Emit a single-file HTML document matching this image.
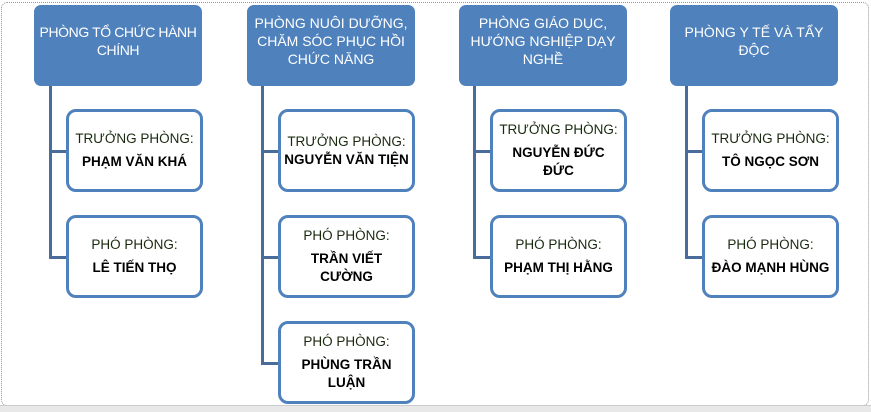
<!DOCTYPE html>
<html><head><meta charset="utf-8"><style>
body{margin:0;width:871px;height:411px;background:#fff;position:relative;overflow:hidden;font-family:"Liberation Sans",sans-serif}
.frame{position:absolute;left:1px;top:2px;width:866px;height:402px;border:1px dotted #999;border-radius:6px}
.bot{position:absolute;left:0;top:405px;width:871px;height:6px;background:#e8e8e8;border-top:1px solid #ccc}
.h{position:absolute;top:5px;width:168px;height:81px;background:#4f81bd;border-radius:7px;color:#fff;font-size:14px;text-align:center;display:flex;align-items:center;justify-content:center;line-height:18px;box-sizing:border-box;padding:0 2px 10px}
.c{position:absolute;width:137px;height:83px;border:3px solid #4f81bd;border-radius:10px;box-sizing:border-box;background:#fff;text-align:center;font-size:13.5px;color:#1a2a10;display:flex;flex-direction:column;justify-content:center;line-height:18px}
.c b{color:#000;margin-top:5px;display:block}
.v{position:absolute;width:3px;background:#4a6c9b}
.hl{position:absolute;height:3px;background:#4a6c9b}
</style></head><body>
<div class="frame"></div><div class="bot"></div>

<div class="h" style="left:34px;letter-spacing:-0.4px">PHÒNG TỔ CHỨC HÀNH<br>CHÍNH</div>
<div class="h" style="left:247px">PHÒNG NUÔI DƯỠNG, CHĂM SÓC PHỤC HỒI CHỨC NĂNG</div>
<div class="h" style="left:459px">PHÒNG GIÁO DỤC, HƯỚNG NGHIỆP DẠY NGHỀ</div>
<div class="h" style="left:670px">PHÒNG Y TẾ VÀ TẨY ĐỘC</div>

<div class="v" style="left:49px;top:86px;height:172px"></div>
<div class="hl" style="left:49px;top:150px;width:18px"></div>
<div class="hl" style="left:49px;top:256px;width:18px"></div>
<div class="v" style="left:261px;top:86px;height:278px"></div>
<div class="hl" style="left:261px;top:150px;width:18px"></div>
<div class="hl" style="left:261px;top:256px;width:18px"></div>
<div class="hl" style="left:261px;top:362px;width:18px"></div>
<div class="v" style="left:473px;top:86px;height:172px"></div>
<div class="hl" style="left:473px;top:150px;width:18px"></div>
<div class="hl" style="left:473px;top:256px;width:18px"></div>
<div class="v" style="left:685px;top:86px;height:172px"></div>
<div class="hl" style="left:685px;top:150px;width:18px"></div>
<div class="hl" style="left:685px;top:256px;width:18px"></div>

<div class="c" style="left:66px;top:109px">TRƯỞNG PHÒNG:<b>PHẠM VĂN KHÁ</b></div>
<div class="c" style="left:66px;top:215px">PHÓ PHÒNG:<b>LÊ TIẾN THỌ</b></div>
<div class="c" style="left:278px;top:109px">TRƯỞNG PHÒNG:<b style="margin-top:0">NGUYỄN VĂN TIỆN</b></div>
<div class="c" style="left:278px;top:215px">PHÓ PHÒNG:<b>TRẦN VIẾT<br>CƯỜNG</b></div>
<div class="c" style="left:278px;top:321px">PHÓ PHÒNG:<b>PHÙNG TRẦN<br>LUẬN</b></div>
<div class="c" style="left:490px;top:109px">TRƯỞNG PHÒNG:<b>NGUYỄN ĐỨC<br>ĐỨC</b></div>
<div class="c" style="left:490px;top:215px">PHÓ PHÒNG:<b>PHẠM THỊ HẰNG</b></div>
<div class="c" style="left:702px;top:109px">TRƯỞNG PHÒNG:<b>TÔ NGỌC SƠN</b></div>
<div class="c" style="left:702px;top:215px">PHÓ PHÒNG:<b>ĐÀO MẠNH HÙNG</b></div>
</body></html>
